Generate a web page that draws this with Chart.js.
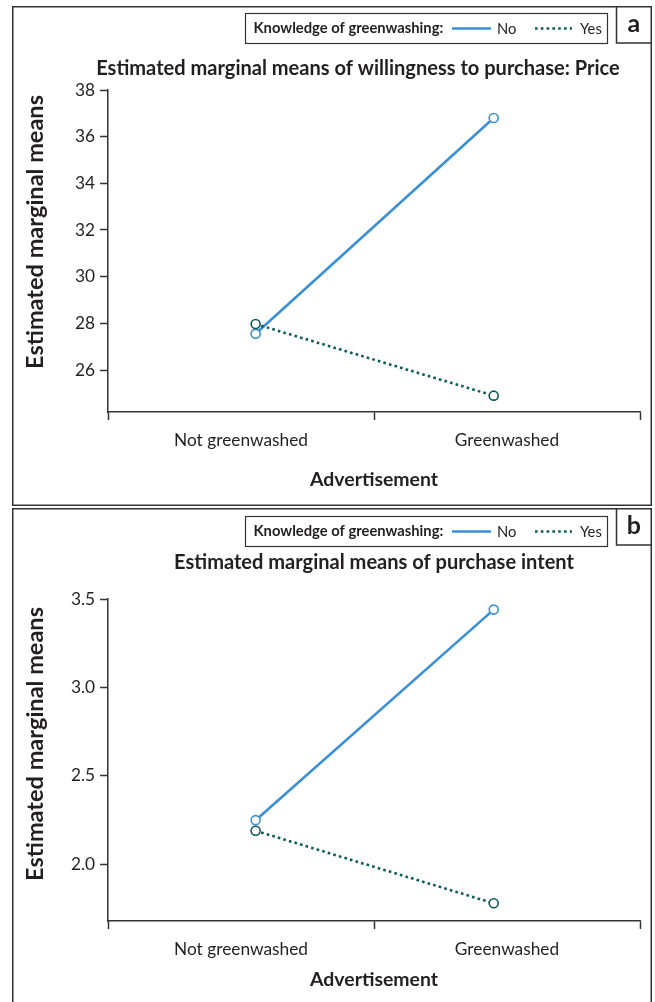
<!DOCTYPE html>
<html>
<head>
<meta charset="utf-8">
<script src="https://cdn.jsdelivr.net/npm/chart.js@4.4.1/dist/chart.umd.min.js"></script>
<style>
  html,body{margin:0;padding:0;background:#fff;}
  body{width:655px;height:1002px;position:relative;overflow:hidden;}
  .wrap{position:absolute;left:0;width:655px;}
  canvas{display:block;}
</style>
</head>
<body>
<div class="wrap" style="top:0;height:506px;"><canvas id="ca"></canvas></div>
<div class="wrap" style="top:506px;height:496px;"><canvas id="cb"></canvas></div>
<script>
// ---------------- data ----------------
const categories = ['Not greenwashed', 'Greenwashed'];
const seriesNames = ['No', 'Yes'];
const legendTitle = 'Knowledge of greenwashing:';
const xAxisTitle = 'Advertisement';
const yAxisTitle = 'Estimated marginal means';

const titleA = 'Estimated marginal means of willingness to purchase: Price';
const priceNo  = [27.55, 36.8];
const priceYes = [27.97, 24.9];
const yTicksA  = [26, 28, 30, 32, 34, 36, 38];

const titleB = 'Estimated marginal means of purchase intent';
const intentNo  = [2.25, 3.44];
const intentYes = [2.19, 1.78];
const yTicksB   = [2.0, 2.5, 3.0, 3.5];

// ---------------- styling ----------------
const FONT = 'Lato, "Open Sans", "DejaVu Sans", sans-serif';
const TXT = '#231f20';
const AX = '#333333';
const COL_NO = '#3a8fd5';
const COL_YES = '#0c5b58';
const pointShift = [0.055, -0.05]; // inward dodge of markers inside each category band

const mc = document.createElement('canvas').getContext('2d');
function fit(text, bold, width) {
  mc.font = (bold ? 'bold ' : '') + '100px ' + FONT;
  return +(100 * width / mc.measureText(text).width).toFixed(2);
}
const tickSize = fit('Not greenwashed', false, 134);
const titleSize = fit(titleA, true, 524);
const axTitleSize = fit(xAxisTitle, true, 128);
const yTitleSize = fit(yAxisTitle, true, 274);
const legSize = fit(legendTitle, true, 190);

function pts(vals) {
  return vals.map((v, i) => ({ x: i + 0.5 + pointShift[i], y: v }));
}

const decor = {
  id: 'decor',
  afterDraw(chart, args, o) {
    const ctx = chart.ctx;
    ctx.save();
    ctx.strokeStyle = AX;
    ctx.lineWidth = 1.5;
    // panel frame
    ctx.strokeRect(o.frame[0], o.frame[1], o.frame[2], o.frame[3]);
    // legend box
    const L = o.legend;
    ctx.lineWidth = 1.2;
    ctx.strokeRect(L.x, L.y, L.w, L.h);
    const cy = L.y + L.h / 2;
    ctx.fillStyle = TXT;
    ctx.textBaseline = 'middle';
    ctx.textAlign = 'left';
    ctx.font = 'bold ' + legSize + 'px ' + FONT;
    ctx.fillText(legendTitle, L.x + 8, cy);
    const ds = chart.data.datasets;
    const items = [[452, 491, 497], [535, 572, 580]];
    ds.forEach((d, i) => {
      const it = items[i];
      ctx.beginPath();
      ctx.strokeStyle = d.borderColor;
      ctx.lineWidth = d.borderWidth;
      ctx.setLineDash(d.borderDash || []);
      ctx.moveTo(it[0], cy); ctx.lineTo(it[1], cy);
      ctx.stroke();
      ctx.setLineDash([]);
      ctx.font = (legSize) + 'px ' + FONT;
      ctx.fillStyle = TXT;
      ctx.fillText(d.label, it[2], cy + 0.5);
    });
    // letter box
    const B = o.letterBox;
    ctx.strokeStyle = AX; ctx.lineWidth = 1.5;
    ctx.beginPath();
    ctx.moveTo(B.x, B.y0); ctx.lineTo(B.x, B.y1); ctx.lineTo(B.x2, B.y1);
    ctx.stroke();
    ctx.font = 'bold 25px ' + FONT;
    ctx.textAlign = 'center';
    ctx.fillStyle = TXT;
    ctx.fillText(o.letter, (B.x + B.x2) / 2, (B.y0 + B.y1) / 2 - 1);
    // chart title
    ctx.font = 'bold ' + titleSize + 'px ' + FONT;
    ctx.fillText(o.title, o.titleX, o.titleY);
    // y-axis title
    ctx.translate(35, o.yTitleY);
    ctx.rotate(-Math.PI / 2);
    ctx.font = 'bold ' + yTitleSize + 'px ' + FONT;
    ctx.fillText(yAxisTitle, 0, 0);
    ctx.restore();
  }
};

function makeChart(id, h, noVals, yesVals, yTicks, yMin, yMax, fmt, pad, xH, xTitlePad, deco) {
  const el = document.getElementById(id);
  el.width = 655; el.height = h;
  el.style.width = '655px'; el.style.height = h + 'px';
  return new Chart(el, {
    type: 'line',
    data: {
      datasets: [
        { label: seriesNames[0], data: pts(noVals), borderColor: COL_NO, borderWidth: 2.6,
          pointRadius: 4.5, pointBorderWidth: 1.6, pointBackgroundColor: '#fff', pointBorderColor: COL_NO, order: 1 },
        { label: seriesNames[1], data: pts(yesVals), borderColor: COL_YES, borderWidth: 2.6, borderDash: [2.6, 3.2],
          pointRadius: 4.5, pointBorderWidth: 1.6, pointBackgroundColor: '#fff', pointBorderColor: COL_YES, order: 0 }
      ]
    },
    options: {
      responsive: false,
      animation: false,
      devicePixelRatio: 1,
      layout: { padding: { left: 0, top: pad.top, right: pad.right, bottom: 0 } },
      plugins: { legend: { display: false }, tooltip: { enabled: false }, title: { display: false }, decor: deco },
      scales: {
        x: {
          type: 'linear', min: 0, max: 2,
          afterBuildTicks: s => { s.ticks = [0, 0.5, 1, 1.5, 2].map(v => ({ value: v })); },
          afterFit: s => { s.height = xH; },
          ticks: { autoSkip: false, maxRotation: 0, padding: 10, color: TXT,
            font: { family: FONT, size: tickSize },
            callback: v => (v === 0.5 ? categories[0] : v === 1.5 ? categories[1] : '') },
          grid: { drawOnChartArea: false, drawTicks: true, tickLength: 8, tickWidth: 1.5,
            tickColor: c => (c.tick && Number.isInteger(c.tick.value) ? AX : 'rgba(0,0,0,0)') },
          border: { display: true, color: AX, width: 1.5 },
          title: { display: true, text: xAxisTitle, color: TXT, padding: { top: 0, bottom: xTitlePad },
            font: { family: FONT, size: axTitleSize, weight: 'bold' } }
        },
        y: {
          type: 'linear', min: yMin, max: yMax,
          afterBuildTicks: s => { s.ticks = yTicks.map(v => ({ value: v })); },
          afterFit: s => { s.width = 108; },
          ticks: { padding: 5, color: TXT, font: { family: FONT, size: tickSize }, callback: fmt },
          grid: { drawOnChartArea: false, drawTicks: true, tickLength: 8, tickWidth: 1.5, tickColor: AX },
          border: { display: true, color: AX, width: 1.5 }
        }
      }
    },
    plugins: [decor]
  });
}

makeChart('ca', 506, priceNo, priceYes, yTicksA, 24.2, 38, v => String(v),
  { top: 90, right: 15 }, 94, 15,
  { frame: [12.75, 6.75, 638.5, 498.5],
    legend: { x: 245.5, y: 13.5, w: 362, h: 30 },
    letterBox: { x: 616.5, y0: 6.75, y1: 43, x2: 651.25 }, letter: 'a',
    title: titleA, titleX: 358, titleY: 69, yTitleY: 232 });

makeChart('cb', 496, intentNo, intentYes, yTicksB, 1.68, 3.5, v => Number(v).toFixed(1),
  { top: 93, right: 15 }, 81, 11,
  { frame: [12.75, 2.75, 638.5, 520],
    legend: { x: 245.5, y: 10.5, w: 362, h: 30 },
    letterBox: { x: 616.5, y0: 2.75, y1: 39, x2: 651.25 }, letter: 'b',
    title: titleB, titleX: 374, titleY: 57, yTitleY: 238 });
</script>
</body>
</html>
